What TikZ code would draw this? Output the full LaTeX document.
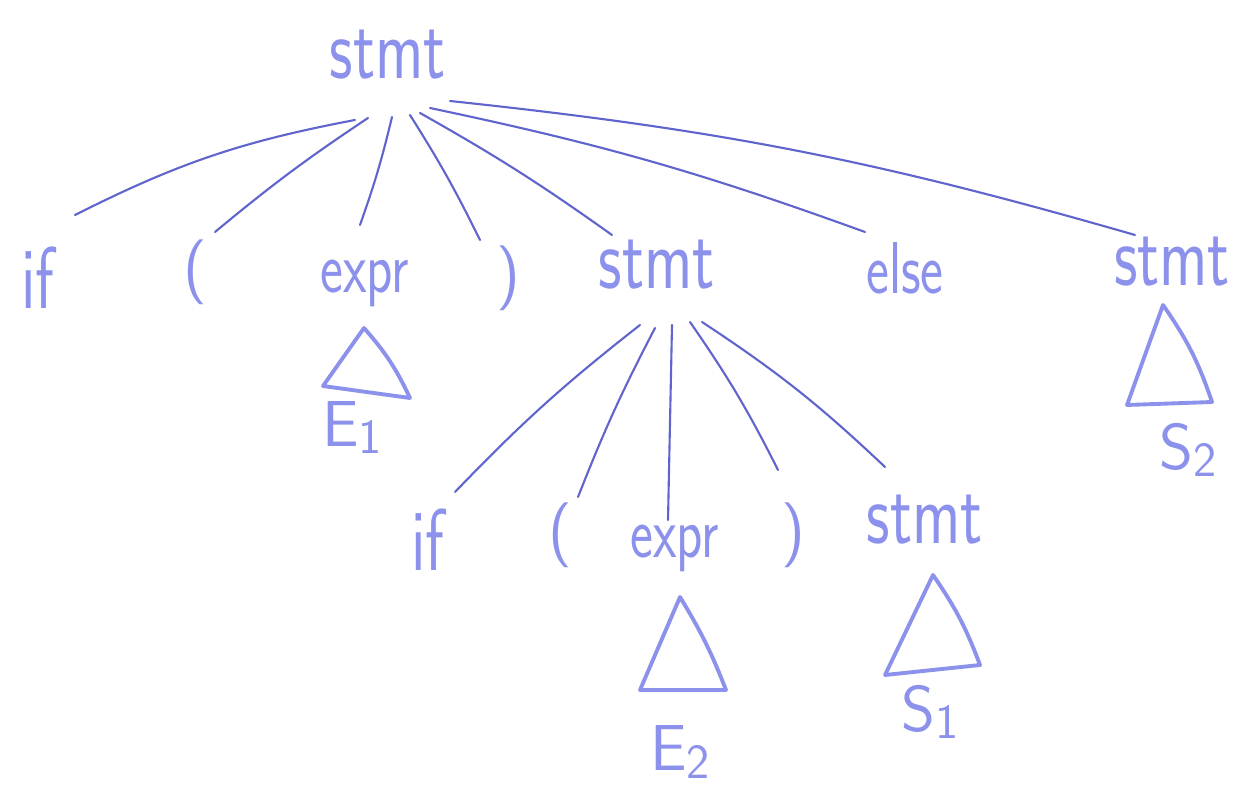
\documentclass[tikz,border=0pt]{standalone}
\usepackage{graphicx}
\usetikzlibrary{calc}
\definecolor{edgecol}{RGB}{96,100,205}
\definecolor{inkcol}{RGB}{140,146,236}
\newcommand\tx[1]{\scalebox{1}[1.35]{#1}}
\newcommand\sub[2]{#1\raisebox{-0.25ex}{\fontsize{28}{30}\selectfont #2}}
\tikzset{
  lbl/.style={text=inkcol, font=\fontsize{37}{42}\selectfont\sffamily, inner sep=0pt, anchor=center},
  lblsm/.style={lbl, font=\fontsize{31}{36}\selectfont\sffamily},
  edge/.style={draw=edgecol, line width=1.2pt, line cap=round},
  tri/.style={draw=inkcol, line width=2.2pt, line join=round},
}
\begin{document}
\begin{tikzpicture}[x=0.02cm,y=-0.02cm]
\useasboundingbox (0,0) rectangle (1239,786);
\fill[white] (0,0) rectangle (1239,786);

% labels
\node[lbl] (root) at (388,55) {\tx{stmt}};
\node[lbl] (if1) at (38,278) {\tx{if}};
\node[lbl] (lp1) at (195,272) {(};
\node[lblsm] (expr1) at (365,283) {\tx{expr}};
\node[lbl] (rp1) at (508,278) {)};
\node[lbl] (stmt2) at (657,265) {\tx{stmt}};
\node[lblsm] (else) at (905,268) {\tx{else}};
\node[lbl] (stmt3) at (1172,262) {\tx{stmt}};
\node[lbl] (if2) at (428,540) {\tx{if}};
\node[lbl] (lp2) at (560,535) {(};
\node[lblsm] (expr2) at (675,548) {\tx{expr}};
\node[lbl] (rp2) at (793,535) {)};
\node[lbl] (stmt4) at (925,520) {\tx{stmt}};
\node[lbl] (E1) at (352,428) {\sub{E}{1}};
\node[lbl] (S2) at (1188,450) {\sub{S}{2}};
\node[lbl] (E2) at (680,752) {\sub{E}{2}};
\node[lbl] (S1) at (930,712) {\sub{S}{1}};

% root edges
\draw[edge] ([shift={(-33,65)}]root.center) to[bend right=8] ([shift={(37,-63)}]if1.center);
\draw[edge] ([shift={(-20,63)}]root.center) to[bend right=3] ([shift={(20,-40)}]lp1.center);
\draw[edge] ([shift={(4,62)}]root.center) to[bend left=3] ([shift={(-5,-58)}]expr1.center);
\draw[edge] ([shift={(22,60)}]root.center) to[bend left=3] ([shift={(-28,-38)}]rp1.center);
\draw[edge] ([shift={(32,58)}]root.center) to[bend left=3] ([shift={(-45,-30)}]stmt2.center);
\draw[edge] ([shift={(42,53)}]root.center) to[bend left=4] ([shift={(-40,-36)}]else.center);
\draw[edge] ([shift={(62,46)}]root.center) to[bend left=5] ([shift={(-37,-27)}]stmt3.center);

% inner stmt edges
\draw[edge] ([shift={(-17,60)}]stmt2.center) to[bend right=4] ([shift={(27,-48)}]if2.center);
\draw[edge] ([shift={(-2,63)}]stmt2.center) to[bend right=3] ([shift={(18,-38)}]lp2.center);
\draw[edge] ([shift={(15,60)}]stmt2.center) -- ([shift={(-7,-28)}]expr2.center);
\draw[edge] ([shift={(33,57)}]stmt2.center) to[bend left=4] ([shift={(-15,-65)}]rp2.center);
\draw[edge] ([shift={(45,57)}]stmt2.center) to[bend left=5] ([shift={(-40,-53)}]stmt4.center);

% subtree triangles
\draw[tri] (364,328) to[bend left=8] (410,398) -- (323,386) -- cycle;
\draw[tri] (1163,305) to[bend left=8] (1212,402) -- (1127,405) -- cycle;
\draw[tri] (680,597) to[bend left=5] (726,690) -- (640,690) -- cycle;
\draw[tri] (933,575) to[bend left=7] (980,665) -- (885,675) -- cycle;
\end{tikzpicture}
\end{document}
